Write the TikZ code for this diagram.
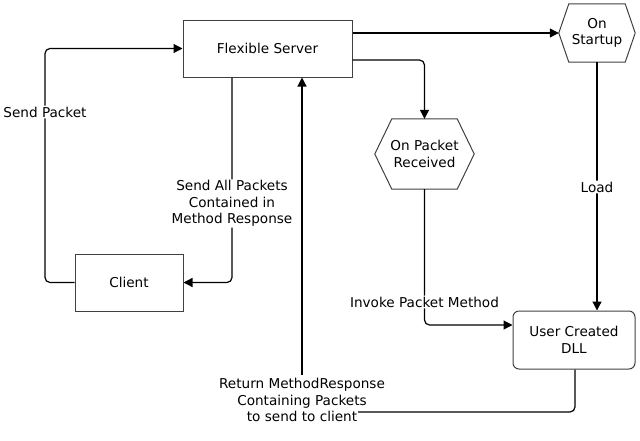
\documentclass[tikz,border=0pt]{standalone}
\usepackage{fontspec}
\setmainfont{DejaVu Sans}
\usetikzlibrary{arrows.meta}

\tikzset{
  txt/.style={font=\fontsize{13.6}{16.5}\selectfont, align=center},
  box/.style={txt, draw=black!75, line width=1pt, inner sep=0pt},
  hexnode/.style={txt, inner sep=0pt},
  hexline/.style={draw=black!75, line width=1pt},
  conn/.style={line width=1.2pt, rounded corners=5pt},
  lbl/.style={txt, fill=white, inner sep=1pt},
}

\begin{document}
\begin{tikzpicture}[x=1pt, y=-1pt, >={Triangle[length=9pt, width=9pt]}]
  \useasboundingbox (0,0) rectangle (640,440);

  % === Boxes ===
  \node[box, minimum width=169pt, minimum height=57pt] (server) at (267.5,48.5) {Flexible Server};
  \node[box, minimum width=108pt, minimum height=57pt] (client) at (129,282.5) {Client};
  \node[box, rounded corners=6pt, minimum width=122pt, minimum height=58pt] (dll) at (574,340) {User Created\\DLL};

  % === Event hexagons ===
  \node[hexnode, minimum width=76pt, minimum height=58pt] (startup) at (597,33) {On\\Startup};
  \node[hexnode, minimum width=99pt, minimum height=70pt] (received) at (424.5,154) {On Packet\\Received};
  \foreach \h/\d in {startup/10, received/17}
    \draw[hexline] ([xshift=\d]\h.north west) -- ([xshift=-\d]\h.north east) -- (\h.east)
      -- ([xshift=-\d]\h.south east) -- ([xshift=\d]\h.south west) -- (\h.west) -- cycle;

  % === Client <-> server ===
  \draw[conn, ->] (client.west) -| (45,112) node[lbl] {Send Packet} |- (server.west);
  \draw[conn, ->] ([xshift=-35.5pt]server.south) -- (232,203.5)
    node[lbl] {Send All Packets\\Contained in\\Method Response} |- (client.east);

  % === Server -> events ===
  \draw[conn, ->] (server.east |- startup.west) -- (startup.west);
  \draw[conn, ->] ([yshift=-11.5pt]server.east) -| (received.north);

  % === Events -> DLL ===
  \draw[conn, ->] (received.south) -- (424.5,302) node[lbl] {Invoke Packet Method} |- ([yshift=15pt]dll.west);
  \draw[conn, ->] (startup.south) -- (597,187) node[lbl] {Load} -- (startup.south |- dll.north);

  % === DLL -> server ===
  \node[txt] (ret) at (302,400) {Return MethodResponse\\Containing Packets\\to send to client};
  \coordinate (retend) at (358,412);
  \draw[conn] ([xshift=1pt]dll.south) |- (retend);
  \draw[conn, ->] (ret.north) -- (ret.north |- server.south);

\end{tikzpicture}
\end{document}
